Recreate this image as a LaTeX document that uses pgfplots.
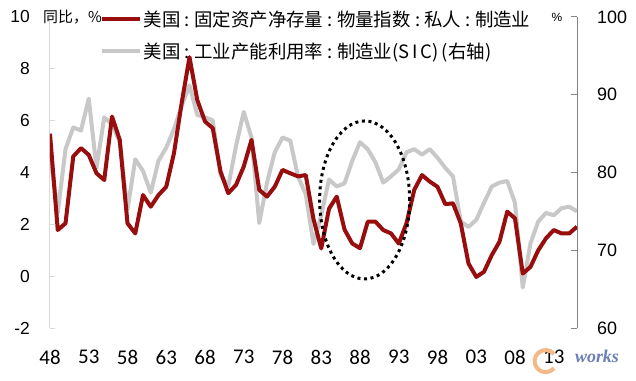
\documentclass[border=0pt]{standalone}
\usepackage{pgfplots}
\usepackage{pgfplotstable}
\pgfplotsset{compat=1.18}
\usepackage{fontspec}
\setmainfont{Liberation Sans}
\newfontfamily\cjk{Noto Sans CJK SC}
\newfontfamily\calfont{Carlito}
\newfontfamily\wmfont{Liberation Serif}
\definecolor{dred}{RGB}{152,14,14}
\definecolor{lgray}{RGB}{200,200,200}
\definecolor{axgray}{RGB}{134,134,134}
\definecolor{faint}{RGB}{218,218,218}
\definecolor{wmorange}{RGB}{245,185,135}
\definecolor{wmblue}{RGB}{105,125,185}

\pgfplotstableread{
year cap
1948 5.50
1949 1.78
1950 2.04
1951 4.62
1952 4.94
1953 4.68
1954 3.97
1955 3.71
1956 6.16
1957 5.26
1958 2.04
1959 1.65
1960 3.13
1961 2.68
1962 3.13
1963 3.45
1964 4.75
1965 6.70
1966 8.45
1967 6.80
1968 5.97
1969 5.71
1970 4.04
1971 3.20
1972 3.52
1973 4.23
1974 5.26
1975 3.33
1976 3.07
1977 3.45
1978 4.10
1979 3.97
1980 3.85
1981 3.90
1982 2.20
1983 1.07
1984 2.60
1985 3.07
1986 1.80
1987 1.26
1988 1.08
1989 2.10
1990 2.10
1991 1.78
1992 1.65
1993 1.26
1994 2.04
1995 3.33
1996 3.90
1997 3.65
1998 3.45
1999 2.78
2000 2.81
2001 2.04
2002 0.49
2003 -0.03
2004 0.17
2005 0.81
2006 1.33
2007 2.49
2008 2.23
2009 0.10
2010 0.36
2011 1.00
2012 1.46
2013 1.78
2014 1.65
2015 1.65
2016 1.91
}\capstock

\pgfplotstableread{
year util
1948 82.5
1949 74.8
1950 83.0
1951 85.8
1952 85.4
1953 89.5
1954 80.6
1955 87.1
1956 86.2
1957 83.9
1958 75.2
1959 81.7
1960 80.2
1961 77.4
1962 81.5
1963 83.2
1964 85.6
1965 88.6
1966 91.2
1967 87.4
1968 87.1
1969 86.7
1970 79.7
1971 78.2
1972 83.4
1973 87.8
1974 84.5
1975 73.5
1976 78.7
1977 82.6
1978 84.5
1979 84.1
1980 79.5
1981 77.2
1982 70.8
1983 74.5
1984 79.1
1985 78.2
1986 78.6
1987 81.5
1988 83.9
1989 83.0
1990 81.3
1991 78.7
1992 79.5
1993 80.4
1994 82.6
1995 83.0
1996 82.3
1997 83.0
1998 81.9
1999 80.6
2000 79.5
2001 73.7
2002 73.0
2003 73.9
2004 76.1
2005 78.2
2006 78.7
2007 78.9
2008 76.1
2009 65.2
2010 70.9
2011 73.7
2012 74.8
2013 74.5
2014 75.4
2015 75.6
2016 75.0
}\utilization

\newcommand\cc{\hspace{4.3bp}:\hspace{4.3bp}}

\begin{document}
\begin{tikzpicture}
\useasboundingbox (-50bp,-53bp) rectangle (586bp,328bp);
% right axis (gray series)
\begin{axis}[
  scale only axis, width=527bp, height=311bp,
  xmin=1948, xmax=2016, ymin=60, ymax=100,
  axis x line=none,
  axis y line*=right,
  y axis line style={draw=axgray, line width=1bp},
  ytick={60,70,80,90,100},
  yticklabels={60,70,80,90,100},
  ytick style={draw=axgray, line width=1bp},
  tick align=inside, major tick length=6bp,
  yticklabel style={font=\fontsize{18}{18}\selectfont, anchor=west, inner sep=0pt, xshift=20bp},
]
\addplot[lgray, line width=4bp, line join=round] table[x=year, y=util]{\utilization};
\end{axis}
% left axis (red series)
\begin{axis}[
  scale only axis, width=527bp, height=311bp,
  xmin=1948, xmax=2016, ymin=-2, ymax=10,
  clip mode=individual,
  axis y line*=left, axis x line*=bottom,
  x axis line style={draw=none},
  y axis line style={draw=faint, line width=1bp},
  xtick={1948,1953,...,2013},
  xticklabels={48,53,58,63,68,73,78,83,88,93,98,03,08,13},
  xtick style={draw=none},
  ytick={-2,0,2,4,6,8,10},
  yticklabels={-2,0,2,4,6,8,10},
  ytick style={draw=faint, line width=1bp},
  tick align=inside, major tick length=5bp,
  xticklabel style={font=\calfont\fontsize{21}{21}\selectfont, anchor=north, inner sep=0pt, yshift=-22bp},
  yticklabel style={font=\fontsize{17.5}{17.5}\selectfont, anchor=east, inner sep=0pt, xshift=-20bp},
  legend style={at={(0.095,1.026)}, anchor=north west, draw=none, fill=none,
    inner sep=0pt, row sep=12bp, font=\cjk\fontsize{18.5}{18.5}\selectfont,
    nodes={inner sep=1.5bp}},
  legend cell align=left,
  legend image code/.code={\draw[#1, line width=4bp] (0bp,0bp) -- (38bp,0bp);},
]
\draw[line width=4bp, wmorange] (axis cs:2016,-2) ++(-23bp,-26bp) arc[start angle=40, end angle=320, radius=11bp];
\addplot[dred, line width=4bp, line join=round] table[x=year, y=cap]{\capstock};
\addlegendentry{美国\cc 固定资产净存量\cc 物量指数\cc 私人\cc 制造业}
\addlegendimage{lgray, line width=4bp}
\addlegendentry{美国\cc 工业产能利用率\cc 制造业(S\hspace{3bp}I\hspace{3bp}C)\hspace{3bp}(右轴)}
\draw[black, line width=3bp, dash pattern=on 3bp off 3.6bp] (axis cs:1988.6,2.94) ellipse [x radius=45bp, y radius=79bp];
\node[anchor=west, inner sep=0pt, xshift=-7bp, font=\cjk\fontsize{15}{15}\selectfont] at (rel axis cs:0,1) {同比，\%};
\node[inner sep=0pt, xshift=-20bp, font=\fontsize{12}{12}\selectfont] at (rel axis cs:1,1) {\%};
\node[inner sep=0pt, xshift=20bp, yshift=-28bp, font=\wmfont\bfseries\itshape\fontsize{18}{18}\selectfont, text=wmblue] at (rel axis cs:1,0) {works};
\end{axis}
\end{tikzpicture}
\end{document}
